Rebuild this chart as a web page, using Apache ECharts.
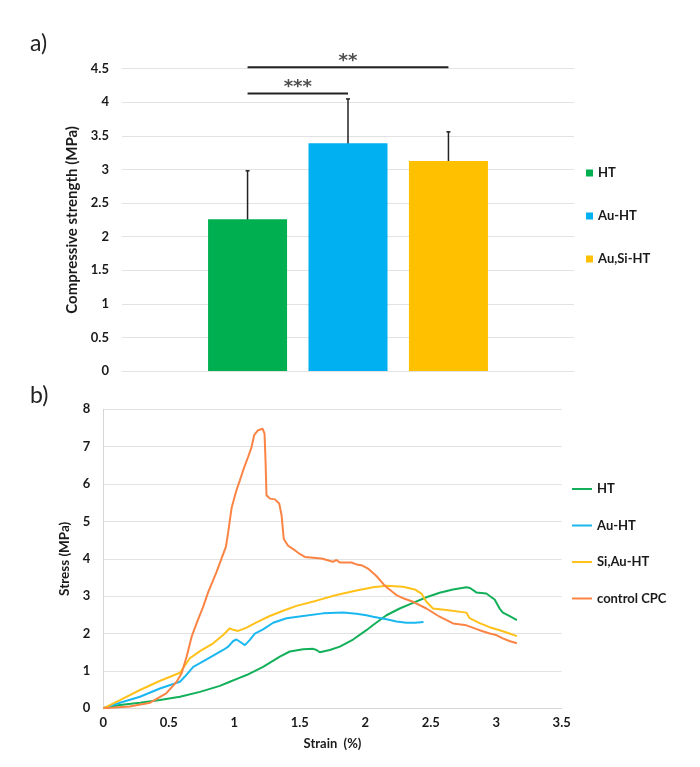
<!DOCTYPE html>
<html>
<head>
<meta charset="utf-8">
<script src="https://cdn.jsdelivr.net/npm/echarts@6/dist/echarts.min.js"></script>
<style>html,body{margin:0;padding:0;background:#fff}#c{width:700px;height:767px}</style>
</head>
<body>
<div id="c"></div>
<script>
// ---- Panel a) data ----
var barNames = ['HT', 'Au-HT', 'Au,Si-HT'];
var barPos = [1.25, 2.25, 3.25];
var barValues = [2.26, 3.39, 3.125];
var errLow = [1.54, 2.74, 2.69];
var errHigh = [2.98, 4.05, 3.56];
var barColors = ['#00B050', '#00B0F0', '#FFC000'];
var sig1 = [[1.25, 4.13], [2.25, 4.13]];
var sig1Label = '***';
var sig2 = [[1.25, 4.52], [3.25, 4.52]];
var sig2Label = '**';
var yTicksA = [0, 4.5, 0.5];

// ---- Panel b) data (strain %, stress MPa) ----
var lineNames = ['HT ', 'Au-HT ', 'Si,Au-HT', 'control CPC'];
var lineColors = ['#13B05A', '#1BB8F0', '#FFC11A', '#FB8444'];
var htData = [[0,0],[0.127,0.09],[0.28,0.15],[0.432,0.22],[0.585,0.31],[0.738,0.44],[0.89,0.60],[0.966,0.71],[1.03,0.80],[1.094,0.89],[1.22,1.11],[1.348,1.38],[1.424,1.52],[1.526,1.58],[1.602,1.59],[1.628,1.56],[1.653,1.50],[1.729,1.56],[1.806,1.65],[1.907,1.84],[2.009,2.09],[2.06,2.23],[2.162,2.49],[2.263,2.67],[2.365,2.82],[2.467,2.97],[2.568,3.09],[2.67,3.18],[2.772,3.24],[2.80,3.22],[2.848,3.10],[2.924,3.07],[2.988,2.91],[3.026,2.67],[3.051,2.56],[3.10,2.47],[3.158,2.36]];
var auData = [[0,0],[0.127,0.15],[0.28,0.31],[0.432,0.53],[0.585,0.71],[0.623,0.85],[0.687,1.11],[0.789,1.31],[0.915,1.56],[0.954,1.65],[0.992,1.80],[1.017,1.84],[1.043,1.78],[1.081,1.69],[1.119,1.83],[1.157,2.0],[1.22,2.11],[1.297,2.29],[1.399,2.41],[1.526,2.47],[1.678,2.54],[1.831,2.56],[1.933,2.53],[2.009,2.49],[2.06,2.45],[2.162,2.38],[2.238,2.32],[2.314,2.29],[2.38,2.29],[2.445,2.31]];
var siAuData = [[0,0],[0.127,0.22],[0.28,0.49],[0.43,0.73],[0.585,0.95],[0.661,1.34],[0.738,1.53],[0.839,1.74],[0.915,1.96],[0.966,2.14],[0.992,2.10],[1.03,2.07],[1.094,2.16],[1.17,2.30],[1.271,2.47],[1.373,2.61],[1.475,2.74],[1.628,2.88],[1.78,3.03],[1.933,3.15],[2.06,3.24],[2.162,3.28],[2.288,3.25],[2.378,3.18],[2.429,3.07],[2.467,2.85],[2.517,2.67],[2.62,2.63],[2.772,2.56],[2.797,2.41],[2.873,2.28],[2.95,2.17],[3.026,2.09],[3.102,2.0],[3.158,1.93]];
var cpcData = [[0,0],[0.2,0.05],[0.358,0.15],[0.48,0.40],[0.56,0.71],[0.598,0.94],[0.636,1.38],[0.674,1.91],[0.712,2.27],[0.763,2.72],[0.80,3.10],[0.865,3.65],[0.903,4.01],[0.936,4.32],[0.954,4.72],[0.979,5.35],[1.017,5.84],[1.043,6.10],[1.068,6.37],[1.106,6.73],[1.132,6.99],[1.152,7.31],[1.182,7.44],[1.216,7.48],[1.231,7.35],[1.239,6.59],[1.246,5.70],[1.272,5.61],[1.310,5.59],[1.343,5.48],[1.361,5.17],[1.378,4.53],[1.411,4.35],[1.462,4.23],[1.50,4.13],[1.539,4.05],[1.666,4.01],[1.678,3.97],[1.754,3.92],[1.78,3.97],[1.806,3.90],[1.894,3.90],[1.933,3.85],[1.971,3.83],[2.021,3.74],[2.085,3.54],[2.149,3.28],[2.238,3.03],[2.30,2.93],[2.365,2.85],[2.467,2.67],[2.568,2.45],[2.670,2.27],[2.772,2.22],[2.873,2.09],[2.95,2.0],[3.0,1.96],[3.05,1.87],[3.10,1.80],[3.158,1.74]];
var xTicksB = [0, 3.5, 0.5];
var yTicksB = [0, 8, 1];

var FONT = 'Lato';
var TXT = '#1a1a1a';
var GRIDC = '#e2e2e2';

var chart = echarts.init(document.getElementById('c'), null, {renderer: 'canvas'});

var series = [];
barNames.forEach(function (n, i) {
  series.push({
    type: 'bar', name: n, xAxisIndex: 0, yAxisIndex: 0,
    data: [[barPos[i], barValues[i]]],
    barWidth: 79, barGap: '-100%',
    itemStyle: {color: barColors[i]},
    silent: true
  });
});
series.push({
  type: 'custom', xAxisIndex: 0, yAxisIndex: 0, silent: true,
  data: barPos.map(function (p, i) { return [p, errLow[i], errHigh[i]]; }),
  renderItem: function (params, api) {
    var lo = api.coord([api.value(0), api.value(1)]);
    var hi = api.coord([api.value(0), api.value(2)]);
    var st = {stroke: '#222', lineWidth: 1.5};
    return {type: 'group', children: [
      {type: 'line', shape: {x1: lo[0], y1: lo[1], x2: hi[0], y2: hi[1]}, style: st},
      {type: 'line', shape: {x1: lo[0] - 2, y1: lo[1], x2: lo[0] + 2, y2: lo[1]}, style: st},
      {type: 'line', shape: {x1: hi[0] - 2, y1: hi[1], x2: hi[0] + 2, y2: hi[1]}, style: st}
    ]};
  }
});
[[sig1, sig1Label], [sig2, sig2Label]].forEach(function (s) {
  series.push({
    type: 'line', xAxisIndex: 0, yAxisIndex: 0, data: s[0], symbol: 'none', clip: false, silent: true,
    lineStyle: {color: '#222', width: 2}
  });
  series.push({
    type: 'scatter', xAxisIndex: 0, yAxisIndex: 0, clip: false, silent: true, symbolSize: 0,
    data: [[(s[0][0][0] + s[0][1][0]) / 2, s[0][0][1]]],
    label: {show: true, position: 'top', distance: -3, formatter: s[1], fontFamily: 'DejaVu Sans', fontWeight: 'bold', fontSize: 18, color: '#222'}
  });
});
[htData, auData, siAuData, cpcData].forEach(function (d, i) {
  series.push({
    type: 'line', name: lineNames[i], xAxisIndex: 1, yAxisIndex: 1, data: d,
    symbol: 'none', smooth: false, silent: true,
    lineStyle: {color: lineColors[i], width: 2}, itemStyle: {color: lineColors[i]}
  });
});

var axisLabel = {fontFamily: FONT, fontWeight: 'bold', fontSize: 13, color: TXT};
var lineIcon = 'path://M0,0H20V2H0Z';

chart.setOption({
  animation: false,
  backgroundColor: '#fff',
  title: [
    {text: 'a)', left: 25, top: 27, textStyle: {fontFamily: FONT, fontWeight: 'normal', fontSize: 23, color: '#222'}},
    {text: 'b)', left: 25, top: 379, textStyle: {fontFamily: FONT, fontWeight: 'normal', fontSize: 23, color: '#222'}}
  ],
  legend: [
    {
      data: barNames, orient: 'vertical', left: 581, top: 160.5, icon: 'rect',
      itemWidth: 7, itemHeight: 7, itemGap: 28,
      textStyle: {fontFamily: FONT, fontWeight: 'bold', fontSize: 13, color: TXT, lineHeight: 15}
    },
    {
      data: lineNames.map(function (n) { return {name: n, icon: lineIcon}; }),
      orient: 'vertical', left: 567, top: 476.5,
      itemWidth: 20, itemHeight: 2, itemGap: 21.5,
      textStyle: {fontFamily: FONT, fontWeight: 'bold', fontSize: 13, color: TXT, lineHeight: 15}
    }
  ],
  grid: [
    {left: 122, right: 126, top: 68.7, bottom: 396},
    {left: 103.3, right: 138.3, top: 409.3, bottom: 58.7}
  ],
  xAxis: [
    {gridIndex: 0, type: 'value', min: 0, max: 4.5, show: false},
    {gridIndex: 1, type: 'value', min: xTicksB[0], max: xTicksB[1], interval: xTicksB[2],
      axisLine: {show: true, lineStyle: {color: '#d6d6d6'}}, axisTick: {show: false},
      splitLine: {show: false},
      axisLabel: Object.assign({margin: 8}, axisLabel),
      name: 'Strain  (%)', nameLocation: 'middle', nameGap: 29,
      nameTextStyle: {fontFamily: FONT, fontWeight: 'bold', fontSize: 13, color: TXT}}
  ],
  yAxis: [
    {gridIndex: 0, type: 'value', min: yTicksA[0], max: yTicksA[1], interval: yTicksA[2],
      axisLine: {show: false}, axisTick: {show: false},
      splitLine: {show: true, lineStyle: {color: GRIDC, width: 1}},
      axisLabel: Object.assign({margin: 13}, axisLabel),
      name: 'Compressive strength (MPa)', nameLocation: 'middle', nameGap: 35,
      nameTextStyle: {fontFamily: FONT, fontWeight: 'bold', fontSize: 15, color: TXT}},
    {gridIndex: 1, type: 'value', min: yTicksB[0], max: yTicksB[1], interval: yTicksB[2],
      axisLine: {show: true, lineStyle: {color: '#d6d6d6'}}, axisTick: {show: false},
      splitLine: {show: true, lineStyle: {color: GRIDC, width: 1}},
      axisLabel: Object.assign({margin: 13}, axisLabel),
      name: 'Stress (MPa)', nameLocation: 'middle', nameGap: 25,
      nameTextStyle: {fontFamily: FONT, fontWeight: 'bold', fontSize: 13.5, color: TXT}}
  ],
  series: series
});
</script>
</body>
</html>
